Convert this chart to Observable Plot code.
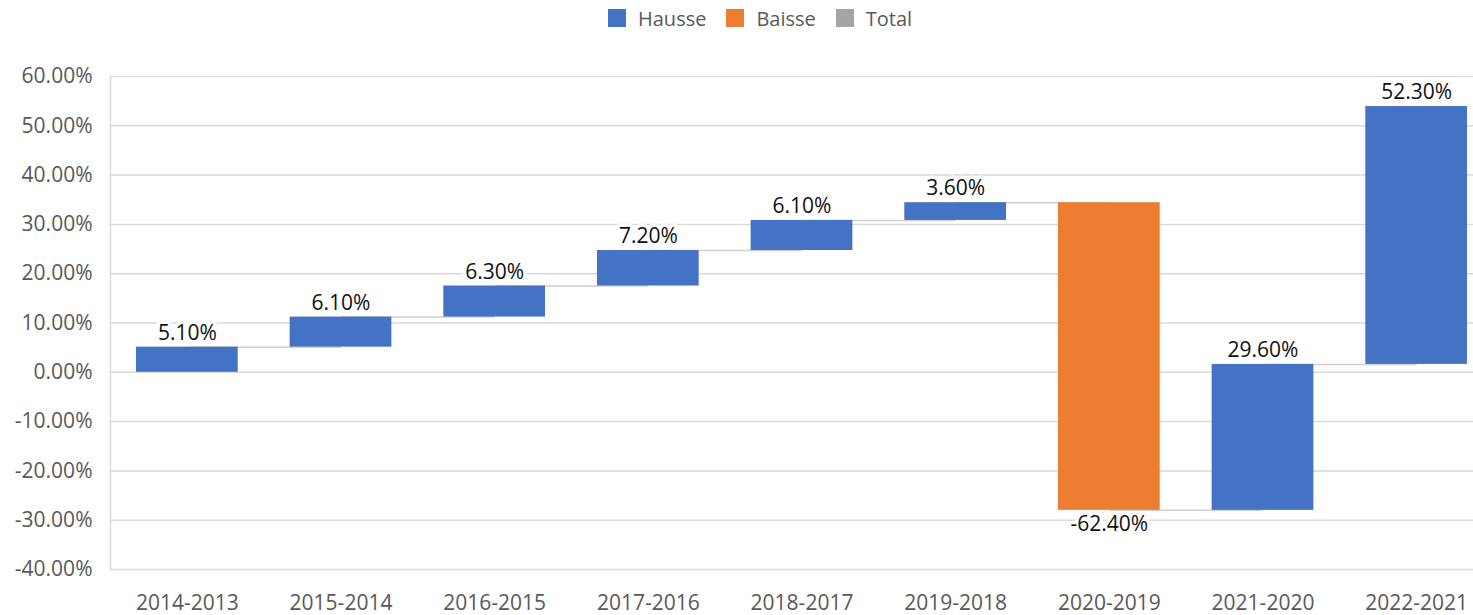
<!DOCTYPE html>
<html><head><meta charset="utf-8">
<script src="https://cdn.jsdelivr.net/npm/d3@7"></script>
<script src="https://cdn.jsdelivr.net/npm/@observablehq/plot@0.6"></script>
<style>
html,body{margin:0;padding:0;background:#fff;overflow:hidden;width:1473px;height:615px}
#legend{height:36px;display:flex;align-items:center;font-family:"Open Sans",sans-serif;font-size:20px;color:#595959;padding-left:608px;box-sizing:border-box}
.item{display:flex;align-items:center;margin-right:20px}
.sw{width:18px;height:18px;margin-right:12px}
#chart{width:1473px;overflow:hidden}
#chart svg{max-width:none !important;display:block}
</style></head><body>
<div id="legend"></div><div id="chart"></div>
<script>
const categories = ["2014-2013","2015-2014","2016-2015","2017-2016","2018-2017","2019-2018","2020-2019","2021-2020","2022-2021"];
const changes = [5.1, 6.1, 6.3, 7.2, 6.1, 3.6, -62.4, 29.6, 52.3];
const seriesNames = ["Hausse","Baisse","Total"];
const seriesColors = ["#4472C4","#ED7D31","#A5A5A5"];
const yTicks = [-40,-30,-20,-10,0,10,20,30,40,50,60];

// legend
const legend = document.getElementById("legend");
seriesNames.forEach((n,i)=>{
  const it = document.createElement("div"); it.className="item";
  const sw = document.createElement("div"); sw.className="sw"; sw.style.background=seriesColors[i];
  const t = document.createElement("span"); t.textContent=n;
  it.appendChild(sw); it.appendChild(t); legend.appendChild(it);
});

let acc = 0;
const data = categories.map((c,i)=>{
  const start = acc; acc += changes[i];
  return {cat:c, start, end:acc, change:changes[i], type: changes[i] >= 0 ? "Hausse" : "Baisse",
          label: changes[i].toFixed(2) + "%", next: categories[i+1]};
});

const chart = Plot.plot({
  width: 1493, height: 579,
  marginLeft: 110, marginRight: 0, marginTop: 40, marginBottom: 46,
  style: {fontFamily: "'Open Sans', sans-serif", fontSize: "21px", color: "#595959", background: "#fff", maxWidth: "none"},
  x: {domain: categories, paddingInner: 0.338, paddingOuter: 0.169, round: false, label: null},
  y: {domain: [-40, 60], nice: false, label: null},
  color: {domain: seriesNames, range: seriesColors},
  marks: [
    Plot.gridY(yTicks, {stroke: "#d9d9d9", strokeOpacity: 1, strokeWidth: 1.5}),
    Plot.frame({anchor: "left", stroke: "#d9d9d9", strokeOpacity: 1, strokeWidth: 1.5}),
    Plot.axisY(yTicks, {tickSize: 0, tickPadding: 18, tickFormat: d => d.toFixed(2) + "%", fontSize: 21, label: null}),
    Plot.axisX({tickSize: 0, tickPadding: 26, fontSize: 21, label: null}),
    Plot.link(data.slice(0, -1), {x1: "cat", x2: "next", y1: "end", y2: "end", stroke: "#d0d0d0", strokeWidth: 1.5}),
    Plot.barY(data, {x: "cat", y1: "start", y2: "end", fill: "type"}),
    Plot.text(data.filter(d => d.change >= 0), {x: "cat", y: "end", text: "label", dy: -14, lineAnchor: "middle", fill: "#111", stroke: "white", strokeWidth: 7, paintOrder: "stroke", fontSize: 21}),
    Plot.text(data.filter(d => d.change < 0), {x: "cat", y: "end", text: "label", dy: 14, lineAnchor: "middle", fill: "#111", stroke: "white", strokeWidth: 7, paintOrder: "stroke", fontSize: 21})
  ]
});
chart.style.maxWidth = "none";
document.getElementById("chart").appendChild(chart);
</script>
</body></html>
